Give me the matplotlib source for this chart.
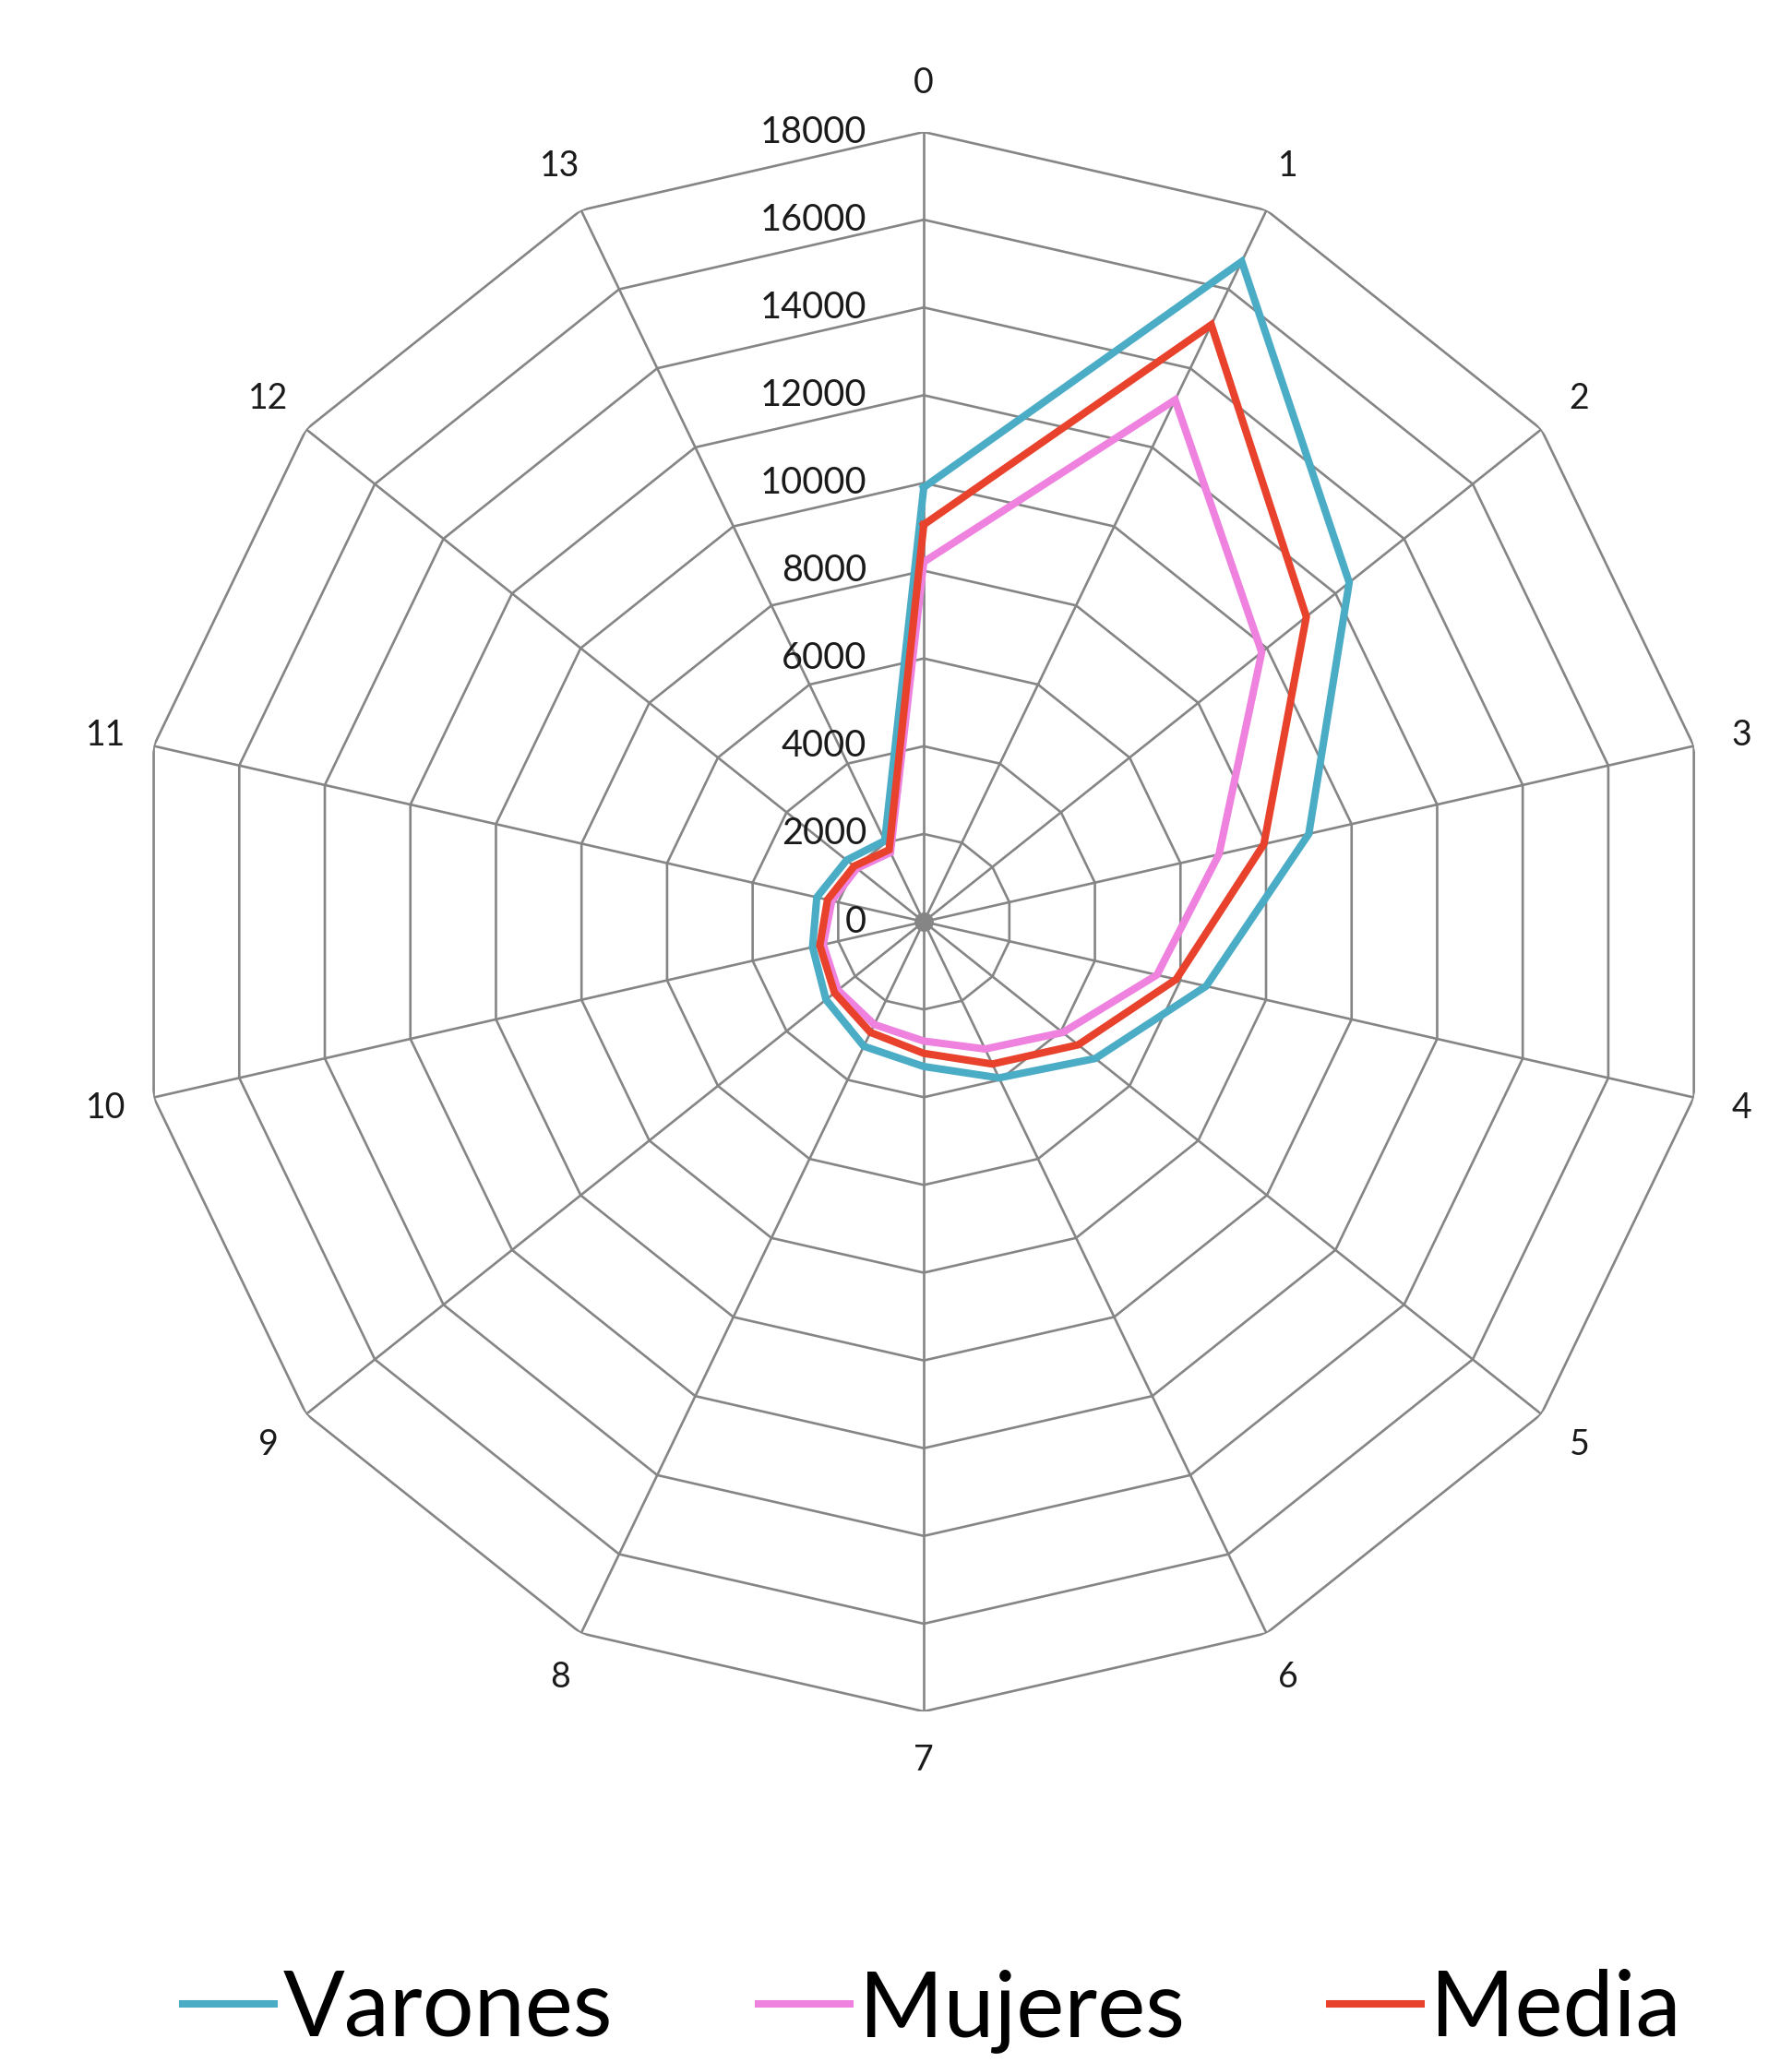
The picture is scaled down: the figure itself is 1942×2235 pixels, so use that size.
import numpy as np
import matplotlib
matplotlib.use("Agg")
from matplotlib import pyplot as plt

plt.rcParams['font.family'] = ['Lato', 'DejaVu Sans']

# datos (14 categorias, 0..13)
categorias = [str(i) for i in range(14)]
varones = [9900, 16700, 12400, 9000, 6600, 5000, 3950, 3300, 3150, 2850, 2600, 2500, 2250, 2050]
mujeres = [8200, 13200, 9850, 6900, 5450, 4050, 3220, 2720, 2600, 2500, 2350, 2150, 1950, 1750]
media = [9050, 15100, 11150, 7950, 5900, 4500, 3600, 3000, 2800, 2600, 2430, 2250, 2030, 1820]
anillos = [0, 2000, 4000, 6000, 8000, 10000, 12000, 14000, 16000, 18000]

series = [("Varones", varones, "#4BACC6"),
          ("Mujeres", mujeres, "#EE82DE"),
          ("Media", media, "#E8412C")]

n = len(categorias)
ang = np.linspace(0, 2 * np.pi, n, endpoint=False)
ang_c = np.append(ang, ang[0])

fig = plt.figure(figsize=(19.42, 22.35), dpi=100)
ax = fig.add_axes([0.0747, 0.170, 0.8816, 0.766], projection='polar')
ax.set_theta_zero_location('N')
ax.set_theta_direction(-1)
ax.set_ylim(0, anillos[-1])
ax.grid(False)
ax.spines['polar'].set_visible(False)
ax.set_yticks([])

gris = "#858585"
# anillos poligonales
for r in anillos[1:]:
    ax.plot(ang_c, [r] * (n + 1), color=gris, lw=1.9, zorder=1)
# radios
for a in ang:
    ax.plot([a, a], [0, anillos[-1]], color=gris, lw=1.9, zorder=1)
# punto gris del centro
ax.plot([0], [0], 'o', color=gris, ms=14, zorder=2)

for nombre, vals, col in series:
    v = np.append(vals, vals[0])
    ax.plot(ang_c, v, color=col, lw=5.8, label=nombre, zorder=3, solid_joinstyle='miter')

# etiquetas de categoria
ax.set_xticks(ang)
ax.set_xticklabels(categorias, fontsize=27, color="#1a1a1a")
ax.tick_params(axis='x', pad=31, length=0)

# etiquetas del eje de valores
for r in anillos:
    ax.annotate(str(r), xy=(0, r), xytext=(-62, 0), textcoords='offset pixels',
                ha='right', va='center', fontsize=28.5, color="#1a1a1a", zorder=4)

fig.legend(loc='center', bbox_to_anchor=(0.52, 0.025), ncol=3, frameon=False,
           fontsize=71, handlelength=1.0, handletextpad=0.1, columnspacing=1.6)

fig.savefig("out.png", dpi=100, facecolor='white')
